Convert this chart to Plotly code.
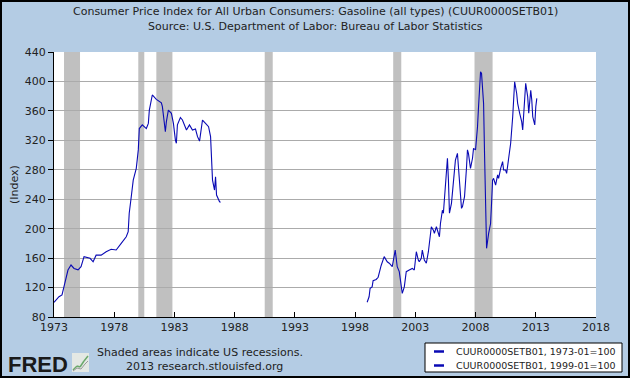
import plotly.graph_objects as go

# ---------------- data ----------------
s1_dates = ["1973-01", "1973-06", "1973-09", "1973-11", "1974-03", "1974-06", "1974-09",
            "1975-01", "1975-04", "1975-07", "1976-01", "1976-04", "1976-07", "1976-12",
            "1977-05", "1977-10", "1978-03", "1978-08", "1979-01", "1979-03", "1979-04",
            "1979-06", "1979-08", "1979-11", "1980-01", "1980-02", "1980-05", "1980-09",
            "1980-11", "1980-12", "1981-03", "1981-07", "1981-12", "1982-01", "1982-03",
            "1982-04", "1982-05", "1982-07", "1982-10", "1982-12", "1983-02", "1983-03",
            "1983-04", "1983-07", "1983-09", "1984-01", "1984-04", "1984-07", "1984-10",
            "1984-12", "1985-02", "1985-05", "1985-08", "1985-11", "1986-01", "1986-03",
            "1986-05", "1986-06", "1986-07", "1986-10", "1986-11"]
s1_values = [100, 107.6, 110, 121, 143.8, 150.6, 146,
             144, 148.3, 162, 159.7, 155, 164, 164,
             168.7, 172, 171, 180, 189, 196, 221,
             243, 266, 282, 307, 336, 341, 336,
             343, 361, 381.6, 375.7, 371, 365.7, 341,
             331.7, 345, 361, 356.7, 343, 320, 316,
             341, 351, 347.6, 334, 341, 334, 335.4,
             325, 319, 347.6, 343, 338.6, 325, 266,
             252.5, 270.6, 245.7, 236.6, 236]

s2_dates = ["1999-01", "1999-03", "1999-04", "1999-06", "1999-07", "1999-10", "1999-12",
            "2000-03", "2000-06", "2000-09", "2000-11", "2001-02", "2001-05", "2001-06",
            "2001-07", "2001-09", "2001-11", "2001-12", "2002-02", "2002-04", "2002-07",
            "2002-10", "2002-12", "2003-02", "2003-04", "2003-05", "2003-07", "2003-08",
            "2003-10", "2003-12", "2004-02", "2004-03", "2004-05", "2004-07", "2004-08",
            "2004-10", "2005-01", "2005-02", "2005-04", "2005-05", "2005-07", "2005-09",
            "2005-10", "2005-11", "2006-01", "2006-03", "2006-05", "2006-07", "2006-08",
            "2006-10", "2006-11", "2006-12", "2007-02", "2007-04", "2007-05", "2007-06",
            "2007-07", "2007-08", "2007-10", "2007-11", "2008-01", "2008-02", "2008-03",
            "2008-04", "2008-06", "2008-07", "2008-08", "2008-09", "2008-10", "2008-11",
            "2008-12", "2009-02", "2009-04", "2009-05", "2009-06", "2009-07", "2009-09",
            "2009-11", "2009-12", "2010-02", "2010-04", "2010-05", "2010-07", "2010-08",
            "2010-10", "2010-12", "2011-02", "2011-03", "2011-04", "2011-06", "2011-07",
            "2011-09", "2011-11", "2011-12", "2012-01", "2012-03", "2012-05", "2012-06",
            "2012-08", "2012-09", "2012-10", "2012-12", "2013-01", "2013-02"]
s2_values = [100, 107.5, 119, 121, 129.3, 131, 134,
             150, 162, 155, 153, 148.3, 171, 162,
             148.3, 141.6, 121, 112, 121, 141.6, 143.8,
             146, 143.8, 168.7, 157.4, 155, 159.7, 171,
             157.4, 153, 168.7, 180, 202.6, 198, 193.6,
             202.6, 189, 207, 225, 221, 266, 295.6,
             266, 221, 234.4, 268.4, 293, 302.4, 279.7,
             243.4, 227.6, 230, 243.4, 282, 307, 302,
             293, 282, 295.6, 309, 307, 320, 338.5,
             365.7, 413, 411, 390, 370, 300, 215,
             173.3, 193.6, 207, 234.4, 266, 268.4, 259.3,
             273, 268.4, 282, 291, 279.7, 279.7, 275,
             293, 316, 352, 379, 399.6, 384, 370.3,
             356.7, 345.3, 334, 361, 397.5, 379, 356.7,
             388, 375, 352, 341, 365.7, 377]

recession_starts = ["1973-11-01", "1980-01-01", "1981-07-01", "1990-07-01", "2001-03-01", "2007-12-01"]
recession_ends = ["1975-03-01", "1980-07-01", "1982-11-01", "1991-03-01", "2001-11-01", "2009-06-01"]

tick_years = ["1973", "1978", "1983", "1988", "1993", "1998", "2003", "2008", "2013", "2018"]
y_ticks = [80, 120, 160, 200, 240, 280, 320, 360, 400, 440]

series_names = ["CUUR0000SETB01, 1973-01=100", "CUUR0000SETB01, 1999-01=100"]
title_lines = ["Consumer Price Index for All Urban Consumers: Gasoline (all types) (CUUR0000SETB01)",
               "Source: U.S. Department of Labor: Bureau of Labor Statistics"]
note_lines = ["Shaded areas indicate US recessions.", "2013 research.stlouisfed.org"]

# ---------------- layout geometry ----------------
W, H = 630, 378
ML, MR, MT, MB = 54, 34, 52, 61
PW, PH = W - ML - MR, H - MT - MB
BG = "#B4CCE4"
LINE = "#0A0AB4"
FONT = "DejaVu Sans"


def px(x):
    return (x - ML) / PW


def py(y):
    return (H - MB - y) / PH


fig = go.Figure()
fig.add_trace(go.Scatter(x=s1_dates, y=s1_values, mode="lines", name=series_names[0],
                         line=dict(color=LINE, width=1.1), showlegend=False))
fig.add_trace(go.Scatter(x=s2_dates, y=s2_values, mode="lines", name=series_names[1],
                         line=dict(color=LINE, width=1.1), showlegend=False))

shapes = []
for a, b in zip(recession_starts, recession_ends):
    shapes.append(dict(type="rect", xref="x", yref="paper", x0=a, x1=b, y0=0, y1=1,
                       fillcolor="#C0C0C0", line=dict(width=0), layer="between"))

# outer frame
shapes.append(dict(type="rect", xref="paper", yref="paper", x0=px(1), x1=px(629),
                   y0=py(1), y1=py(377), line=dict(color="#000000", width=2), layer="above"))

# legend box
shapes.append(dict(type="rect", xref="paper", yref="paper", x0=px(425), x1=px(622),
                   y0=py(343), y1=py(372), fillcolor="#FFFFFF",
                   line=dict(color="#000000", width=1)))
for yy in (351.5, 365.5):
    shapes.append(dict(type="line", xref="paper", yref="paper", x0=px(434), x1=px(444),
                       y0=py(yy), y1=py(yy), line=dict(color=LINE, width=2.5)))

# FRED logo chart icon
shapes.append(dict(type="rect", xref="paper", yref="paper", x0=px(72), x1=px(89),
                   y0=py(353), y1=py(372), fillcolor="#E4E8E4", line=dict(width=0)))
icon_pts = [(73, 370), (77, 366), (80, 367), (84, 361), (88, 356)]
for (xa, ya), (xb, yb) in zip(icon_pts[:-1], icon_pts[1:]):
    shapes.append(dict(type="line", xref="paper", yref="paper", x0=px(xa), x1=px(xb),
                       y0=py(ya), y1=py(yb), line=dict(color="#6BA86B", width=1.5)))
icon_pts2 = [(73, 371), (77, 368), (81, 369), (85, 364), (88, 361)]
for (xa, ya), (xb, yb) in zip(icon_pts2[:-1], icon_pts2[1:]):
    shapes.append(dict(type="line", xref="paper", yref="paper", x0=px(xa), x1=px(xb),
                       y0=py(ya), y1=py(yb), line=dict(color="#9A9A9A", width=1)))

annotations = [
    dict(text=title_lines[0], x=px(315), y=py(11), xref="paper", yref="paper",
         showarrow=False, font=dict(family=FONT, size=11, color="#222222"),
         xanchor="center", yanchor="middle"),
    dict(text=title_lines[1], x=px(315), y=py(26), xref="paper", yref="paper",
         showarrow=False, font=dict(family=FONT, size=11, color="#222222"),
         xanchor="center", yanchor="middle"),
    dict(text="(Index)", x=px(14), y=py(185), xref="paper", yref="paper", textangle=-90,
         showarrow=False, font=dict(family=FONT, size=11, color="#222222"),
         xanchor="center", yanchor="middle"),
    dict(text=note_lines[0], x=px(200), y=py(352), xref="paper", yref="paper",
         showarrow=False, font=dict(family=FONT, size=11, color="#222222"),
         xanchor="center", yanchor="middle"),
    dict(text=note_lines[1], x=px(204), y=py(366), xref="paper", yref="paper",
         showarrow=False, font=dict(family=FONT, size=11, color="#222222"),
         xanchor="center", yanchor="middle"),
    dict(text="<b>FRED</b>", x=px(6), y=py(364), xref="paper", yref="paper",
         showarrow=False, font=dict(family="Liberation Sans", size=22, color="#1A1A1A"),
         xanchor="left", yanchor="middle"),
    dict(text=series_names[0], x=px(454), y=py(351.5), xref="paper", yref="paper",
         showarrow=False, font=dict(family=FONT, size=9.5, color="#222222"),
         xanchor="left", yanchor="middle"),
    dict(text=series_names[1], x=px(454), y=py(365.5), xref="paper", yref="paper",
         showarrow=False, font=dict(family=FONT, size=9.5, color="#222222"),
         xanchor="left", yanchor="middle"),
]

fig.update_layout(
    width=W, height=H,
    margin=dict(l=ML, r=MR, t=MT, b=MB, pad=0),
    paper_bgcolor=BG, plot_bgcolor="#FFFFFF",
    showlegend=False,
    shapes=shapes, annotations=annotations,
    font=dict(family=FONT, size=11, color="#222222"),
    xaxis=dict(type="date", range=["1973-01-01", "2018-01-01"],
               tickvals=[y + "-01-01" for y in tick_years], ticktext=tick_years,
               showgrid=False, zeroline=False, showline=True, linecolor="#000000",
               linewidth=1, ticks="inside", ticklen=5, tickcolor="#000000",
               tickfont=dict(family=FONT, size=11, color="#222222")),
    yaxis=dict(range=[80, 440], tickvals=y_ticks, showgrid=True, gridcolor="#ABABAB",
               gridwidth=1, zeroline=False, showline=True, linecolor="#000000",
               linewidth=1, ticks="outside", ticklen=5, tickcolor="#000000",
               tickfont=dict(family=FONT, size=11, color="#222222")),
)

fig.write_html("out.html", config={"displayModeBar": False},
               post_script="document.body.style.margin='0';document.body.style.overflow='hidden';")
